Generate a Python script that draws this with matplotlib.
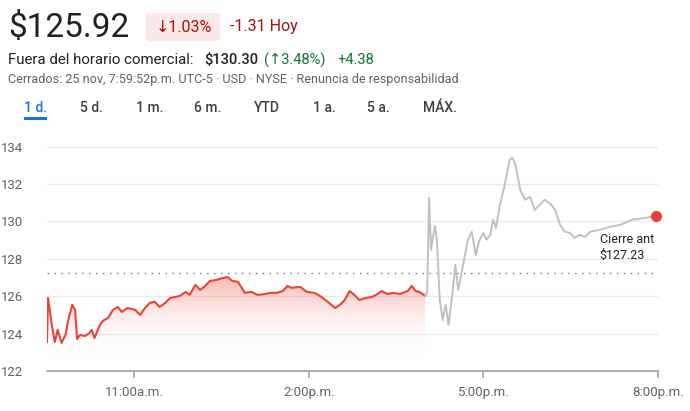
import matplotlib
matplotlib.use('Agg')
from matplotlib import pyplot as plt
from matplotlib.patches import FancyBboxPatch, Rectangle
import numpy as np

plt.rcParams['font.family'] = ['Roboto', 'DejaVu Sans']

# minutes since 9:30 a.m.
regMinutes = [0, 1, 5, 8, 11, 15, 19, 22, 26, 29, 31, 34, 39, 44, 46, 49, 55, 59, 63, 68,
	73, 77, 83, 91, 96, 101, 106, 111, 116, 122, 127, 132, 137, 143, 147, 153, 158, 163, 168, 175,
	178, 186, 191, 197, 204, 211, 217, 225, 230, 237, 243, 248, 252, 261, 268, 276, 283, 291, 297, 302,
	307, 312, 317, 322, 329, 335, 341, 345, 351, 357, 364, 372, 376, 380, 384, 390]
regPrices = [123.55, 125.91, 124.46, 123.55, 124.20, 123.50, 123.93, 124.73, 125.54, 125.27,
	123.71, 123.93, 123.87, 124.04, 124.20, 123.77, 124.52, 124.73, 124.84, 125.27,
	125.43, 125.16, 125.37, 125.27, 125.00, 125.37, 125.64, 125.70, 125.43, 125.64,
	125.91, 125.96, 126.02, 126.23, 126.07, 126.61, 126.34, 126.55, 126.82, 126.87,
	126.93, 127.03, 126.82, 126.77, 126.18, 126.23, 126.07, 126.12, 126.18, 126.18,
	126.28, 126.55, 126.45, 126.50, 126.23, 126.18, 125.96, 125.64, 125.37, 125.54,
	125.80, 126.28, 126.07, 125.80, 125.91, 125.96, 126.12, 126.28, 126.12, 126.18,
	126.12, 126.28, 126.55, 126.28, 126.23, 126.02]

afterMinutes = [390, 392, 394, 396, 398, 400, 402, 405, 408, 411, 414, 418, 421, 424, 427, 431, 434,
	438, 442, 446, 450, 453, 457, 460, 463, 467, 472, 477, 480, 483, 488, 493, 498, 503, 508, 513,
	519, 524, 529, 534, 539, 544, 549, 555, 560, 570, 580, 591, 596, 603, 617, 628]
afterPrices = [126.02, 126.23, 131.27, 128.48, 129.18, 129.77, 129.02, 125.80, 124.73, 125.54,
	124.46, 126.12, 127.68, 126.34, 127.14, 128.21, 129.02, 129.45, 128.21, 129.02, 129.39, 129.02,
	129.28, 130.09, 129.66, 130.89, 131.96, 133.30, 133.41, 133.03, 131.69, 131.16, 131.32, 130.62,
	130.89, 131.16, 130.94, 130.62, 129.82, 129.45, 129.39, 129.12, 129.28, 129.18, 129.45, 129.55,
	129.71, 129.82, 129.93, 130.09, 130.19, 130.30]

prevClose = 127.23
yTicks = [122, 124, 126, 128, 130, 132, 134]
xTicks = [90, 270, 450, 630]
xLabels = ['11:00a.m.', '2:00p.m.', '5:00p.m.', '8:00p.m.']
tabs = ['1 d.', '5 d.', '1 m.', '6 m.', 'YTD', '1 a.', '5 a.', 'MÁX.']
tabX = [24, 80, 136, 194, 254, 313, 367, 423]

W, H = 690, 411
fig = plt.figure(figsize=(W / 100, H / 100), dpi=100)

def px(x, y):
	return x / W, 1 - y / H

red = '#ea4335'
dark = '#202124'
grey = '#5f6368'

# header
fig.text(*px(8, 28), '$125.92', fontsize=24, color=dark, va='center')
fig.patches.append(FancyBboxPatch(px(146, 41), 74 / W, 28 / H, boxstyle='round,pad=0,rounding_size=0.008',
	transform=fig.transFigure, facecolor='#fce8e6', edgecolor='none'))
fig.text(*px(156, 27), '\u21931.03%', fontsize=11.5, color='#a50e0e', va='center')
fig.text(*px(230, 27), '-1.31 Hoy', fontsize=11.5, color='#a50e0e', va='center')

fig.text(*px(8, 60), 'Fuera del horario comercial:', fontsize=10.8, color=dark, va='center')
fig.text(*px(204, 60), '$130.30', fontsize=10.5, color=dark, va='center', fontweight='medium')
fig.text(*px(264, 60), '(\u21913.48%)', fontsize=10.5, color='#137333', va='center')
fig.text(*px(337, 60), '+4.38', fontsize=10.5, color='#137333', va='center')
fig.text(*px(8, 79), 'Cerrados: 25 nov, 7:59:52p.m. UTC-5 · USD · NYSE · Renuncia de responsabilidad',
	fontsize=9.1, color=grey, va='center')

for label, x in zip(tabs, tabX):
	fig.text(*px(x, 108), label, fontsize=10, color='#1a73e8' if label == '1 d.' else '#3c4043',
		va='center', fontweight='medium')
fig.patches.append(Rectangle(px(24, 120), 23 / W, 2.5 / H, transform=fig.transFigure,
	facecolor='#1a73e8', edgecolor='none'))

# chart
ax = fig.add_axes([47 / W, 40 / H, 611 / W, 243 / H])
ax.set_xlim(0, 630)
ax.set_ylim(122, 135)
for s in ['top', 'right', 'left']:
	ax.spines[s].set_visible(False)
ax.spines['bottom'].set_color('#9aa0a6')
ax.spines['bottom'].set_linewidth(1.2)
ax.set_yticks(yTicks)
ax.set_yticklabels([str(v) for v in yTicks], fontsize=9.5, color=grey)
ax.tick_params(axis='y', length=0, pad=9)
for v in yTicks[1:]:
	ax.axhline(v, color='#ececec', linewidth=1, zorder=0)
ax.set_xticks(xTicks)
ax.set_xticklabels(xLabels, fontsize=9.5, color=grey)
ax.tick_params(axis='x', length=5, color='#9aa0a6', width=1.2, pad=6)
for lab in ax.get_yticklabels():
	lab.set_horizontalalignment('left')
	lab.set_x(-0.055)

ax.axhline(prevClose, color='#777777', linewidth=1, linestyle=(0, (1, 4)), zorder=1)

# gradient fill under regular session
grad = np.linspace(1, 0, 256).reshape(-1, 1)
cmap = matplotlib.colors.LinearSegmentedColormap.from_list('g', [(1, 1, 1, 0), (0.92, 0.26, 0.21, 0.4)])
img = ax.imshow(grad[::-1], aspect='auto', cmap=cmap, extent=[0, 390, 122.8, max(regPrices)], origin='lower', zorder=1)
poly = ax.fill_between(regMinutes, regPrices, 122, facecolor='none', edgecolor='none')
img.set_clip_path(poly.get_paths()[0], transform=ax.transData)

ax.plot(regMinutes, regPrices, color=red, linewidth=1.5, zorder=3)
ax.plot(afterMinutes, afterPrices, color='#bdc1c6', linewidth=1.4, zorder=3)
ax.plot([afterMinutes[-1]], [afterPrices[-1]], 'o', color=red, markersize=7, zorder=4, clip_on=False)

ax.text(570, 128.6, 'Cierre ant\n$127.23', fontsize=9, color=dark, va='center', linespacing=1.3)

fig.savefig('out.png', dpi=100)
